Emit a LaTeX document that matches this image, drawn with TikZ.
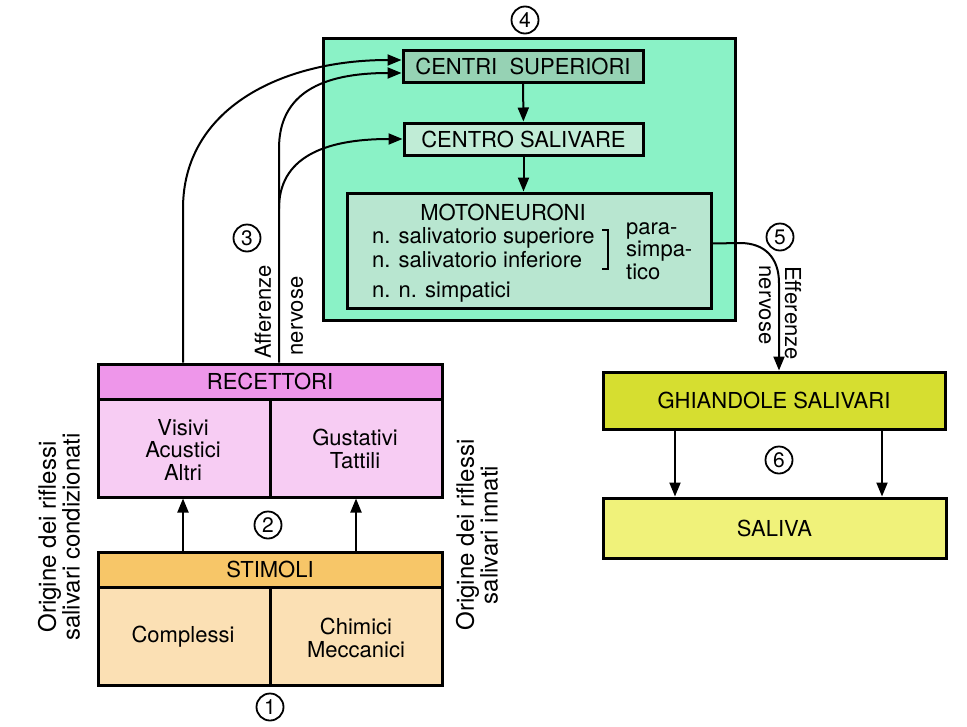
\documentclass[tikz,border=0pt]{standalone}
\usepackage{fontspec}
\setmainfont{TeX Gyre Heros}
\usetikzlibrary{arrows.meta,calc}
\definecolor{cnsgreen}{RGB}{138,242,198}
\definecolor{supfill}{RGB}{150,210,180}
\definecolor{salfill}{RGB}{192,236,214}
\definecolor{motofill}{RGB}{184,230,208}
\definecolor{rechead}{RGB}{238,150,234}
\definecolor{recbody}{RGB}{247,204,243}
\definecolor{stimhead}{RGB}{247,198,104}
\definecolor{stimbody}{RGB}{251,224,180}
\definecolor{ghifill}{RGB}{214,222,48}
\definecolor{salivafill}{RGB}{240,242,122}

\begin{document}
\begin{tikzpicture}[x=1pt,y=-1pt,
    bx/.style={draw, line width=3pt, inner sep=0pt, font=\fontsize{22}{22}\selectfont},
    lbl/.style={font=\fontsize{22}{22.5}\selectfont, align=center, inner sep=0pt},
    side/.style={font=\fontsize{24}{21}\selectfont, align=center, inner sep=0pt, rotate=90},
    num/.style={draw, circle, line width=1.8pt, minimum size=27pt, inner sep=0pt, font=\fontsize{21}{21}\selectfont},
    conn/.style={line width=2pt},
    arr/.style={conn, -{Triangle[length=14pt,width=11pt]}}]
    \fill[white] (0,0) rectangle (967,726);
    \useasboundingbox (0,0) rectangle (967,726);

    % central nervous part
    \node[bx, fill=cnsgreen, minimum width=412pt, minimum height=282pt] (cns) at (529,179) {};
    \node[bx, fill=supfill, minimum width=240pt, minimum height=32pt] (sup) at (523,66) {CENTRI\ \ SUPERIORI};
    \node[bx, fill=salfill, minimum width=239pt, minimum height=32pt] (sal) at (523.5,139) {CENTRO SALIVARE};
    \node[bx, fill=motofill, minimum width=364pt, minimum height=115pt] (moto) at (529,250.5) {};
    \node[lbl] (mtit) at (503,212) {MOTONEURONI};
    \node[lbl, anchor=west] (nss) at (372,238) {n. salivatorio superiore};
    \node[lbl, anchor=west] (nsi) at (372,260) {n. salivatorio inferiore};
    \node[lbl, anchor=west] (nns) at (372,292) {n. n. simpatici};
    \node[lbl, anchor=west, align=left] (para) at (626,251) {para-\\simpa-\\tico};
    \draw[conn] (602,230) -- (608,230) -- (608,269) -- (602,269);
    \draw[arr] (sup) -- (sal);
    \draw[arr] (sal) -- (moto.north -| sal);

    % receptors and stimuli
    \node[bx, fill=recbody, minimum width=344pt, minimum height=133pt] (rec) at (270,430.5) {};
    \node[bx, fill=rechead, minimum width=344pt, minimum height=35pt, anchor=north] (rech) at (rec.north) {RECETTORI};
    \draw[line width=3pt] (rech.south) -- (rec.south);
    \node[lbl] (vis) at (183,450) {Visivi\\Acustici\\Altri};
    \node[lbl] (gus) at (355,449) {Gustativi\\Tattili};

    \node[bx, fill=stimbody, minimum width=344pt, minimum height=133pt] (stim) at (270,618.5) {};
    \node[bx, fill=stimhead, minimum width=344pt, minimum height=35pt, anchor=north] (stimh) at (stim.north) {STIMOLI};
    \draw[line width=3pt] (stimh.south) -- (stim.south);
    \node[lbl] (cmp) at (183,637) {Complessi};
    \node[lbl] (chm) at (356,638) {Chimici\\Meccanici};
    \draw[arr] (stim.north -| cmp) -- (rec.south -| cmp);
    \draw[arr] (stim.north -| chm) -- (rec.south -| chm);

    \node[side] (orc) at (59,537) {Origine dei riflessi\\salivari condizionati};
    \node[side] (ori) at (477,535) {Origine dei riflessi\\salivari innati};

    % afferent pathways
    \coordinate (a1) at (183,0);
    \coordinate (a2) at (279,0);
    \coordinate (br) at ($(rec.north -| a2)+(0,-154)$);
    \draw[arr] (rec.north -| a1) -- ++(0,-154) .. controls +(0,-100) and +(-120,0) .. ($(sup.west)+(0,-6)$);
    \draw[arr] (rec.north -| a2) -- ++(0,-214) .. controls +(0,-55) and +(-80,0) .. ($(sup.west)+(0,7)$);
    \draw[arr] (br) .. controls +(0,-50) and +(-80,0) .. (sal.west);
    \node[lbl, rotate=90] (aff) at (263,312) {Afferenze};
    \node[lbl, rotate=90] (affn) at (297,316) {nervose};

    % glands and saliva
    \node[bx, fill=ghifill, minimum width=342pt, minimum height=57pt] (ghi) at (774,400.5) {GHIANDOLE SALIVARI};
    \node[bx, fill=salivafill, minimum width=343pt, minimum height=60pt] (saliva) at (774.5,528) {SALIVA};
    \coordinate (e1) at (779,0);
    \coordinate (g1) at (675,0);
    \coordinate (g2) at (882,0);
    \draw[arr] ($(moto.east)+(0,-7)$) -- (740,243) .. controls (765,243) and (779,258) .. (779,283) -- (ghi.north -| e1);
    \node[lbl, rotate=-90] (eff) at (793,313) {Efferenze};
    \node[lbl, rotate=-90] (effn) at (765,305) {nervose};
    \draw[arr] (ghi.south -| g1) -- (saliva.north -| g1);
    \draw[arr] (ghi.south -| g2) -- (saliva.north -| g2);

    % step numbers
    \node[num] (n1) at (270,707) {1};
    \node[num] (n2) at (268,525) {2};
    \node[num] (n3) at (247,238) {3};
    \node[num] (n4) at (525,20) {4};
    \node[num] (n5) at (780,237) {5};
    \node[num] (n6) at (779,460) {6};
\end{tikzpicture}
\end{document}
